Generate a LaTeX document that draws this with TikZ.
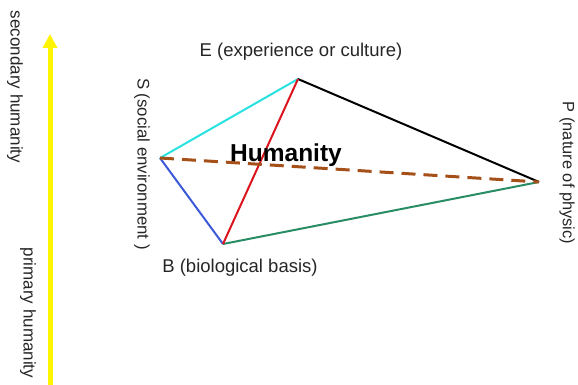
\documentclass[tikz,border=0pt]{standalone}
\usepackage{fontspec}
\setmainfont{Liberation Sans}
\usetikzlibrary{arrows.meta}
\definecolor{cyanline}{RGB}{40,225,225}
\definecolor{redline}{RGB}{220,20,30}
\definecolor{blueline}{RGB}{60,90,215}
\definecolor{greenline}{RGB}{40,140,100}
\definecolor{brownline}{RGB}{165,80,25}
\definecolor{yel}{RGB}{255,245,0}
\begin{document}
\begin{tikzpicture}[x=1pt,y=-1pt,
  lbl/.style={font=\fontsize{18.5}{21}\selectfont, text=black!85, inner sep=0pt},
  vlbl/.style={text=black!85, inner sep=0pt, rotate=-90, font=\fontsize{17}{20}\selectfont},
  edge/.style={line width=2pt}]
\useasboundingbox (0,0) rectangle (578,385);
\coordinate (E) at (298,79);
\coordinate (S) at (160,158);
\coordinate (B) at (223,244);
\coordinate (P) at (539,182);
\coordinate (ybot) at (50,385);
\coordinate (ytop) at (50,34);
\draw[yel, line width=5pt, -{Triangle[length=14pt,width=14pt]}] (ybot) -- (ytop);
\node[vlbl] (sec) at (15,87) {secondary humanity};
\node[vlbl] (pri) at (28,313) {primary humanity};
\node[vlbl, font=\fontsize{16.8}{20}\selectfont] (slab) at (142,164) {S (social environment )};
\node[vlbl, font=\fontsize{16.4}{20}\selectfont] (plab) at (567,173) {P (nature of physic)};
\node[lbl] (elab) at (301,52) {E (experience or culture)};
\node[lbl] (blab) at (240,268) {B (biological basis)};
\draw[edge, black] (E) -- (P);
\draw[edge, greenline] (B) -- (P);
\draw[edge, cyanline] (S) -- (E);
\draw[edge, blueline] (S) -- (B);
\draw[edge, redline] (B) -- (E);
\draw[line width=3pt, brownline, dash pattern=on 14pt off 8pt] (S) -- (P);
\node[font=\bfseries\fontsize{24.5}{28}\selectfont, inner sep=0pt] (hum) at (286,155) {Humanity};
\end{tikzpicture}
\end{document}
